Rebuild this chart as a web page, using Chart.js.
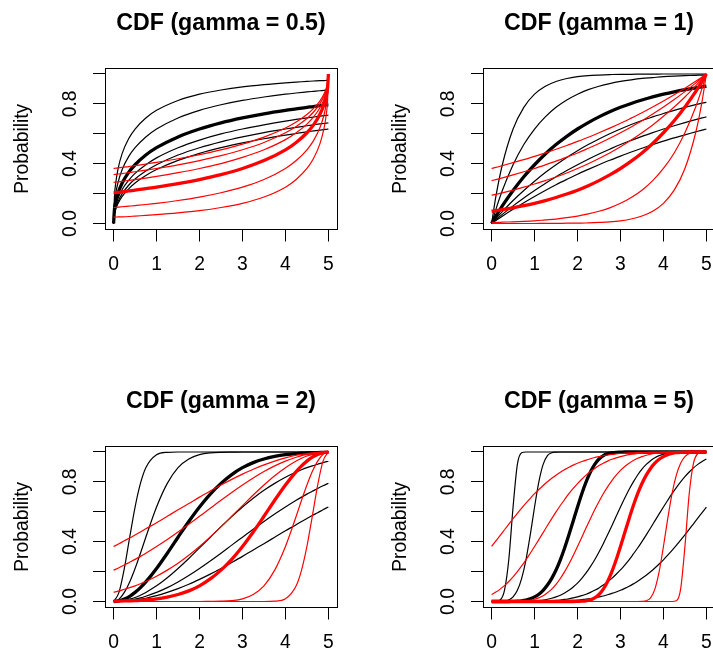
<!DOCTYPE html>
<html>
<head>
<meta charset="utf-8">
<title>CDF panels</title>
<script src="https://cdn.jsdelivr.net/npm/chart.js@4.4.1/dist/chart.umd.min.js"></script>
<style>
  html, body { margin: 0; padding: 0; background: #fff; }
  body { width: 713px; height: 657px; overflow: hidden; position: relative; }
  canvas { position: absolute; }
</style>
</head>
<body>
<canvas id="p1" width="378" height="378" style="left:0px;top:0px"></canvas>
<canvas id="p2" width="378" height="378" style="left:378px;top:0px"></canvas>
<canvas id="p3" width="378" height="378" style="left:0px;top:378px"></canvas>
<canvas id="p4" width="378" height="378" style="left:378px;top:378px"></canvas>
<script>
const titles = ['CDF (gamma = 0.5)', 'CDF (gamma = 1)', 'CDF (gamma = 2)', 'CDF (gamma = 5)'];
const xTicks = [0, 1, 2, 3, 4, 5];
const yTicks = [0, 0.2, 0.4, 0.6, 0.8, 1];
const yTickLabels = ['0.0', '', '0.4', '', '0.8', ''];

// gamma = 0.5 (b = black curves, r = red curves, s = scale)
const x05 = [0, 0.02, 0.05, 0.1, 0.2, 0.35, 0.5, 0.75, 1, 1.5, 2, 2.5, 3, 3.5, 4, 4.25, 4.5, 4.65, 4.8, 4.9, 4.95, 4.98, 5];
const b05_s05 = [0, .181, .271, .361, .469, .567, .632, .706, .757, .823, .865, .893, .914, .929, .941, .946, .950, .953, .955, .956, .957, .957, .958];
const b05_s1 = [0, .132, .200, .271, .361, .447, .507, .579, .632, .706, .757, .794, .823, .846, .865, .873, .880, .884, .888, .891, .892, .893, .893];
const b05_s2 = [0, .095, .146, .200, .271, .342, .393, .458, .507, .579, .632, .673, .706, .734, .757, .767, .777, .782, .788, .791, .793, .794, .794];
const b05_s3 = [0, .078, .121, .167, .228, .289, .335, .393, .439, .507, .558, .599, .632, .660, .685, .696, .706, .712, .718, .721, .723, .724, .725];
const b05_s4 = [0, .068, .106, .146, .200, .256, .298, .351, .393, .458, .507, .546, .579, .608, .632, .643, .654, .660, .666, .669, .671, .672, .673];
const b05_s5 = [0, .061, .095, .132, .181, .232, .271, .321, .361, .422, .469, .507, .539, .567, .591, .602, .613, .619, .625, .628, .630, .631, .632];
const r05_s05 = [.042, .043, .043, .044, .045, .047, .050, .054, .059, .071, .086, .107, .135, .177, .243, .294, .368, .433, .531, .639, .729, .819, 1];
const r05_s1 = [.107, .107, .108, .109, .112, .116, .120, .127, .135, .154, .177, .206, .243, .294, .368, .421, .493, .553, .639, .729, .800, .868, 1];
const r05_s2 = [.206, .206, .207, .209, .212, .218, .223, .233, .243, .266, .294, .327, .368, .421, .493, .542, .607, .658, .729, .800, .854, .905, 1];
const r05_s3 = [.275, .276, .277, .279, .282, .288, .294, .304, .315, .340, .368, .401, .442, .493, .561, .607, .665, .711, .772, .833, .879, .922, 1];
const r05_s4 = [.327, .328, .329, .331, .334, .340, .346, .357, .368, .392, .421, .454, .493, .542, .607, .649, .702, .744, .800, .854, .894, .932, 1];
const r05_s5 = [.368, .369, .370, .372, .375, .381, .387, .398, .409, .433, .461, .493, .531, .578, .639, .679, .729, .768, .819, .868, .905, .939, 1];

// gamma = 1
const x1 = [0, 0.1, 0.25, 0.5, 0.75, 1, 1.25, 1.5, 1.75, 2, 2.25, 2.5, 2.75, 3, 3.25, 3.5, 3.75, 4, 4.25, 4.5, 4.75, 4.9, 5];
const b1_s05 = [0, .181, .393, .632, .777, .865, .918, .950, .970, .982, .989, .993, .996, .998, .998, .999, .999, 1, 1, 1, 1, 1, 1];
const b1_s1 = [0, .095, .221, .393, .528, .632, .713, .777, .826, .865, .895, .918, .936, .950, .961, .970, .976, .982, .986, .989, .991, .993, .993];
const b1_s2 = [0, .049, .118, .221, .313, .393, .465, .528, .583, .632, .675, .713, .747, .777, .803, .826, .847, .865, .881, .895, .907, .914, .918];
const b1_s3 = [0, .033, .080, .154, .221, .283, .341, .393, .442, .487, .528, .565, .600, .632, .662, .689, .713, .736, .757, .777, .795, .805, .811];
const b1_s4 = [0, .025, .061, .118, .171, .221, .268, .313, .354, .393, .430, .465, .497, .528, .556, .583, .608, .632, .654, .675, .695, .706, .713];
const b1_s5 = [0, .020, .049, .095, .139, .181, .221, .259, .295, .330, .362, .393, .423, .451, .478, .503, .528, .551, .573, .593, .613, .625, .632];
const r1_s05 = [0, 0, 0, 0, 0, 0, .001, .001, .002, .002, .004, .007, .011, .018, .030, .050, .082, .135, .223, .368, .607, .819, 1];
const r1_s1 = [.007, .007, .009, .011, .014, .018, .024, .030, .039, .050, .064, .082, .105, .135, .174, .223, .287, .368, .472, .607, .779, .905, 1];
const r1_s2 = [.082, .086, .093, .105, .119, .135, .153, .174, .197, .223, .253, .287, .325, .368, .417, .472, .535, .607, .687, .779, .882, .951, 1];
const r1_s3 = [.189, .195, .205, .223, .243, .264, .287, .311, .338, .368, .400, .435, .472, .513, .558, .607, .659, .717, .779, .846, .920, .967, 1];
const r1_s4 = [.287, .294, .305, .325, .346, .368, .392, .417, .444, .472, .503, .535, .570, .607, .646, .687, .732, .779, .829, .882, .939, .975, 1];
const r1_s5 = [.368, .375, .387, .407, .427, .449, .472, .497, .522, .549, .577, .607, .638, .670, .705, .741, .779, .819, .861, .905, .951, .980, 1];

// gamma = 2
const x2 = [0, 0.125, 0.25, 0.375, 0.5, 0.625, 0.75, 1, 1.25, 1.5, 1.75, 2, 2.25, 2.5, 2.75, 3, 3.25, 3.5, 3.75, 4, 4.25, 4.375, 4.5, 4.625, 4.75, 4.875, 5];
const b2_s05 = [0, .061, .221, .430, .632, .790, .895, .982, .998, 1, 1, 1, 1, 1, 1, 1, 1, 1, 1, 1, 1, 1, 1, 1, 1, 1, 1];
const b2_s1 = [0, .016, .061, .131, .221, .323, .430, .632, .790, .895, .953, .982, .994, .998, .999, 1, 1, 1, 1, 1, 1, 1, 1, 1, 1, 1, 1];
const b2_s2 = [0, .004, .016, .035, .061, .093, .131, .221, .323, .430, .535, .632, .718, .790, .849, .895, .929, .953, .970, .982, .989, .992, .994, .995, .996, .997, .998];
const b2_s3 = [0, .002, .007, .016, .027, .042, .061, .105, .159, .221, .288, .359, .430, .501, .568, .632, .691, .744, .790, .831, .866, .881, .895, .907, .918, .929, .938];
const b2_s4 = [0, .001, .004, .009, .016, .024, .035, .061, .093, .131, .174, .221, .271, .323, .377, .430, .483, .535, .585, .632, .677, .698, .718, .737, .756, .774, .790];
const b2_s5 = [0, .001, .002, .006, .010, .016, .022, .039, .061, .086, .115, .148, .183, .221, .261, .302, .345, .387, .430, .473, .514, .535, .555, .575, .594, .614, .632];
const r2_s05 = [0, 0, 0, 0, 0, 0, 0, 0, 0, 0, 0, 0, 0, 0, 0, 0, 0, 0, .002, .018, .105, .210, .368, .570, .779, .939, 1];
const r2_s1 = [0, 0, 0, 0, 0, 0, 0, 0, 0, 0, 0, 0, .001, .002, .006, .018, .047, .105, .210, .368, .570, .677, .779, .869, .939, .984, 1];
const r2_s2 = [.002, .003, .004, .005, .006, .008, .011, .018, .030, .047, .071, .105, .151, .210, .282, .368, .465, .570, .677, .779, .869, .907, .939, .965, .984, .996, 1];
const r2_s3 = [.062, .071, .082, .093, .105, .119, .134, .169, .210, .256, .309, .368, .432, .499, .570, .641, .712, .779, .841, .895, .939, .958, .973, .984, .993, .998, 1];
const r2_s4 = [.210, .226, .244, .263, .282, .302, .323, .368, .415, .465, .517, .570, .623, .677, .729, .779, .826, .869, .907, .939, .965, .976, .984, .991, .996, .999, 1];
const r2_s5 = [.368, .386, .406, .425, .445, .465, .486, .527, .570, .613, .655, .698, .739, .779, .817, .852, .885, .914, .939, .961, .978, .984, .990, .994, .998, .999, 1];

// gamma = 5
const x5 = [0, 0.1, 0.2, 0.3, 0.4, 0.5, 0.6, 0.7, 0.8, 0.9, 1, 1.1, 1.2, 1.3, 1.4, 1.5, 1.6, 1.7, 1.8, 1.9, 2, 2.1, 2.2, 2.3, 2.4, 2.5, 2.6, 2.7, 2.8, 2.9, 3, 3.1, 3.2, 3.3, 3.4, 3.5, 3.6, 3.7, 3.8, 3.9, 4, 4.1, 4.2, 4.3, 4.4, 4.5, 4.6, 4.7, 4.8, 4.9, 5];
const b5_s05 = [0, 0, .010, .075, .279, .632, .917, .995, 1, 1, 1, 1, 1, 1, 1, 1, 1, 1, 1, 1, 1, 1, 1, 1, 1, 1, 1, 1, 1, 1, 1, 1, 1, 1, 1, 1, 1, 1, 1, 1, 1, 1, 1, 1, 1, 1, 1, 1, 1, 1, 1];
const b5_s1 = [0, 0, 0, .002, .010, .031, .075, .155, .279, .446, .632, .800, .917, .976, .995, .999, 1, 1, 1, 1, 1, 1, 1, 1, 1, 1, 1, 1, 1, 1, 1, 1, 1, 1, 1, 1, 1, 1, 1, 1, 1, 1, 1, 1, 1, 1, 1, 1, 1, 1, 1];
const b5_s2 = [0, 0, 0, 0, 0, .001, .002, .005, .010, .018, .031, .049, .075, .110, .155, .211, .279, .358, .446, .539, .632, .721, .800, .866, .917, .953, .976, .989, .995, .998, .999, 1, 1, 1, 1, 1, 1, 1, 1, 1, 1, 1, 1, 1, 1, 1, 1, 1, 1, 1, 1];
const b5_s3 = [0, 0, 0, 0, 0, 0, 0, .001, .001, .002, .004, .007, .010, .015, .022, .031, .042, .057, .075, .097, .123, .155, .191, .233, .279, .331, .387, .446, .507, .570, .632, .692, .749, .800, .846, .885, .917, .942, .962, .976, .985, .992, .995, .998, .999, .999, 1, 1, 1, 1, 1];
const b5_s4 = [0, 0, 0, 0, 0, 0, 0, 0, 0, .001, .001, .002, .002, .004, .005, .007, .010, .014, .018, .024, .031, .039, .049, .061, .075, .091, .110, .131, .155, .182, .211, .244, .279, .318, .358, .401, .446, .492, .539, .586, .632, .677, .721, .762, .800, .835, .866, .894, .917, .937, .953];
const b5_s5 = [0, 0, 0, 0, 0, 0, 0, 0, 0, 0, 0, .001, .001, .001, .002, .002, .003, .005, .006, .008, .010, .013, .016, .020, .025, .031, .037, .045, .054, .064, .075, .088, .102, .118, .135, .155, .176, .199, .224, .251, .279, .310, .342, .375, .410, .446, .483, .520, .558, .595, .632];
const r5_s05 = [0, 0, 0, 0, 0, 0, 0, 0, 0, 0, 0, 0, 0, 0, 0, 0, 0, 0, 0, 0, 0, 0, 0, 0, 0, 0, 0, 0, 0, 0, 0, 0, 0, 0, 0, 0, 0, 0, 0, 0, 0, 0, 0, .005, .083, .368, .721, .925, .990, 1, 1];
const r5_s1 = [0, 0, 0, 0, 0, 0, 0, 0, 0, 0, 0, 0, 0, 0, 0, 0, 0, 0, 0, 0, 0, 0, 0, 0, 0, 0, 0, 0, 0, 0, 0, 0, 0, 0, 0, .001, .005, .024, .083, .200, .368, .554, .721, .845, .925, .969, .990, .998, 1, 1, 1];
const r5_s2 = [0, 0, 0, 0, 0, 0, 0, 0, 0, 0, 0, 0, 0, 0, 0, 0, 0, 0, 0, 0, .001, .002, .005, .011, .024, .047, .083, .134, .200, .279, .368, .461, .554, .642, .721, .789, .845, .890, .925, .951, .969, .982, .990, .995, .998, .999, 1, 1, 1, 1, 1];
const r5_s3 = [0, 0, 0, 0, 0, .001, .001, .002, .005, .008, .015, .024, .038, .058, .083, .115, .154, .200, .251, .308, .368, .430, .493, .554, .613, .669, .721, .767, .809, .845, .877, .903, .925, .943, .958, .969, .978, .985, .990, .993, .996, .998, .999, .999, 1, 1, 1, 1, 1, 1, 1];
const r5_s4 = [.047, .063, .083, .106, .134, .165, .200, .238, .279, .323, .368, .414, .461, .508, .554, .599, .642, .682, .721, .756, .789, .818, .845, .869, .890, .909, .925, .939, .951, .961, .969, .976, .982, .986, .990, .993, .995, .996, .998, .998, .999, .999, 1, 1, 1, 1, 1, 1, 1, 1, 1];
const r5_s5 = [.368, .405, .442, .480, .517, .554, .590, .625, .658, .690, .721, .749, .776, .801, .824, .845, .865, .882, .898, .912, .925, .936, .946, .955, .963, .969, .975, .980, .984, .987, .990, .992, .994, .995, .997, .998, .998, .999, .999, .999, 1, 1, 1, 1, 1, 1, 1, 1, 1, 1, 1];

const panels = [
  { id: 'p1', title: titles[0], xs: x05,
    black: [b05_s05, b05_s1, b05_s2, b05_s3, b05_s4, b05_s5],
    red: [r05_s05, r05_s1, r05_s2, r05_s3, r05_s4, r05_s5] },
  { id: 'p2', title: titles[1], xs: x1,
    black: [b1_s05, b1_s1, b1_s2, b1_s3, b1_s4, b1_s5],
    red: [r1_s05, r1_s1, r1_s2, r1_s3, r1_s4, r1_s5] },
  { id: 'p3', title: titles[2], xs: x2,
    black: [b2_s05, b2_s1, b2_s2, b2_s3, b2_s4, b2_s5],
    red: [r2_s05, r2_s1, r2_s2, r2_s3, r2_s4, r2_s5] },
  { id: 'p4', title: titles[3], xs: x5,
    black: [b5_s05, b5_s1, b5_s2, b5_s3, b5_s4, b5_s5],
    red: [r5_s05, r5_s1, r5_s2, r5_s3, r5_s4, r5_s5] }
];
const THICK = 2; // the scale = 2 curve is drawn heavy

const fontFamily = '"Liberation Sans", Arial, Helvetica, sans-serif';
const axisFont = { family: fontFamily, size: 19.3 };

function curve(xs, ys, color, width) {
  return {
    data: xs.map((x, i) => ({ x: x, y: ys[i] })),
    borderColor: color,
    borderWidth: width,
    pointRadius: 0,
    fill: false
  };
}

function buildDatasets(p) {
  // index 0 is painted last, so red goes first to sit on top
  const sets = [curve(p.xs, p.red[THICK], '#ff0000', 3.3)];
  p.red.forEach((ys, i) => { if (i !== THICK) sets.push(curve(p.xs, ys, '#ff0000', 1.2)); });
  sets.push(curve(p.xs, p.black[THICK], '#000000', 3.3));
  p.black.forEach((ys, i) => { if (i !== THICK) sets.push(curve(p.xs, ys, '#000000', 1.2)); });
  return sets;
}

// box round the plot region plus the bold panel title
const panelFrame = {
  id: 'panelFrame',
  afterDraw(chart, args, opts) {
    const { ctx, chartArea: a } = chart;
    ctx.save();
    ctx.strokeStyle = '#000';
    ctx.lineWidth = 1;
    const l = Math.round(a.left) + 0.5, t = Math.round(a.top) + 0.5;
    const r = Math.round(a.right) + 0.5, b = Math.round(a.bottom) - 0.5;
    ctx.strokeRect(l, t, r - l, b - t);
    ctx.font = 'bold 23.2px ' + fontFamily;
    ctx.fillStyle = '#000';
    ctx.textAlign = 'center';
    ctx.textBaseline = 'alphabetic';
    ctx.fillText(opts.title, (a.left + a.right) / 2, 30);
    ctx.restore();
  }
};

function makeChart(p) {
  const ctx = document.getElementById(p.id).getContext('2d');
  return new Chart(ctx, {
    type: 'line',
    data: { datasets: buildDatasets(p) },
    options: {
      responsive: false,
      animation: false,
      events: [],
      layout: { padding: { left: 0, top: 68, right: 41, bottom: 0 } },
      elements: {
        point: { radius: 0, hoverRadius: 0 },
        line: { cubicInterpolationMode: 'monotone', borderJoinStyle: 'round' }
      },
      plugins: {
        legend: { display: false },
        tooltip: { enabled: false },
        panelFrame: { title: p.title }
      },
      scales: {
        x: {
          type: 'linear', min: -0.2, max: 5.2,
          afterBuildTicks: s => { s.ticks = xTicks.map(v => ({ value: v })); },
          afterFit: s => { s.height = 148.5; s.paddingLeft = 0; s.paddingRight = 0; },
          ticks: { font: axisFont, color: '#000', padding: 12, maxRotation: 0, autoSkip: false,
                   callback: v => String(v) },
          grid: { drawOnChartArea: false, drawTicks: true, tickLength: 12, color: '#000', lineWidth: 1 },
          border: { display: false }
        },
        y: {
          type: 'linear', min: -0.04, max: 1.04,
          afterBuildTicks: s => { s.ticks = yTicks.map(v => ({ value: v })); },
          afterFit: s => { s.width = 105; s.paddingTop = 0; s.paddingBottom = 0; },
          ticks: { font: axisFont, color: '#000', padding: 8.6, minRotation: 90, maxRotation: 90,
                   crossAlign: 'center', autoSkip: false,
                   callback: (v, i) => yTickLabels[i] },
          grid: { drawOnChartArea: false, drawTicks: true, tickLength: 12, color: '#000', lineWidth: 1 },
          border: { display: false },
          title: { display: true, text: 'Probability', font: axisFont, color: '#000',
                   padding: { top: 11, bottom: 0 } }
        }
      }
    },
    plugins: [panelFrame]
  });
}

panels.forEach(makeChart);
</script>
</body>
</html>
